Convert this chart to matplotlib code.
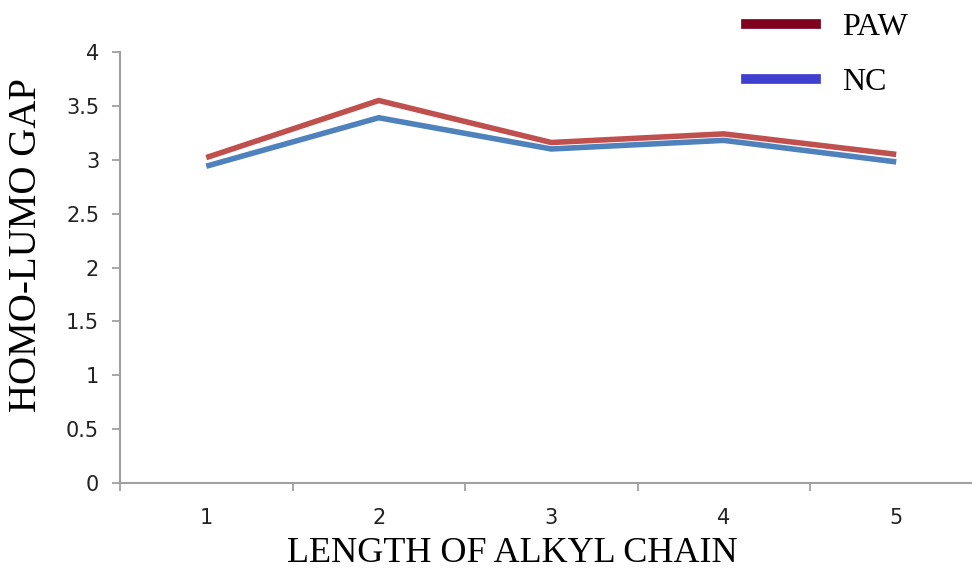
import matplotlib.pyplot as plt
from matplotlib.lines import Line2D

# HOMO-LUMO gap vs alkyl chain length
chain_length = [1, 2, 3, 4, 5]
paw_gap = [3.02, 3.55, 3.16, 3.24, 3.05]
nc_gap = [2.94, 3.39, 3.10, 3.18, 2.98]
y_ticks = [0, 0.5, 1, 1.5, 2, 2.5, 3, 3.5, 4]

serif = ["Liberation Serif", "DejaVu Serif"]
axis_grey = "#a0a0a0"

fig = plt.figure(figsize=(9.72, 5.70), dpi=100)
ax = fig.add_axes([120 / 972, 87 / 570, 1 - 120 / 972, 431 / 570])

ax.plot(chain_length, paw_gap, color="#C0504D", lw=4, solid_capstyle="butt")
ax.plot(chain_length, nc_gap, color="#4F81BD", lw=4, solid_capstyle="butt")

# y axis ticks
ax.set_yticks(y_ticks)
ax.set_yticklabels([f"{v:g}" for v in y_ticks])
ax.tick_params(axis="y", direction="out", length=6, width=1.3, color=axis_grey,
               pad=9, labelsize=15, labelcolor="#222222")

# x axis: labels at category centres, tick marks between categories
ax.set_xticks(chain_length)
ax.set_xticklabels([str(c) for c in chain_length])
ax.set_xticks([c + 0.5 for c in [0] + chain_length], minor=True)
ax.tick_params(axis="x", which="major", length=0, pad=18, labelsize=15,
               labelcolor="#222222")
ax.tick_params(axis="x", which="minor", direction="out", length=6, width=1.3,
               color=axis_grey)

# limits after ticks so the boundary ticks don't widen the view
ax.set_ylim(0, 4)
ax.set_xlim(0.5, 0.5 + 852 / 172.5)

for side in ["top", "right"]:
    ax.spines[side].set_visible(False)
for side in ["left", "bottom"]:
    ax.spines[side].set_color(axis_grey)
    ax.spines[side].set_linewidth(1.5)

fig.text(512 / 972, 1 - 554 / 570, "LENGTH OF ALKYL CHAIN", family=serif,
         fontsize=26, ha="center", va="center")
fig.text(27 / 972, 1 - 245 / 570, "HOMO-LUMO GAP", family=serif,
         fontsize=28, rotation=90, ha="center", va="center")

handles = [Line2D([], [], color="#800020", lw=7),
           Line2D([], [], color="#4040D0", lw=7)]
fig.legend(handles, ["PAW", "NC"], loc="upper left",
           bbox_to_anchor=(746 / 972, 1 - 13 / 570), frameon=False,
           prop={"family": serif, "size": 23}, borderpad=0, borderaxespad=0,
           handlelength=2.2, handletextpad=0.8, labelspacing=0.8)

fig.savefig("out.png", dpi=100)
